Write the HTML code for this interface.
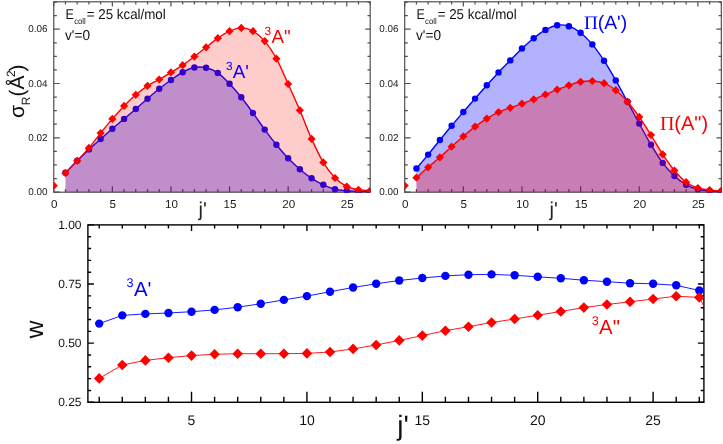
<!DOCTYPE html>
<html><head><meta charset="utf-8"><title>chart</title>
<style>html,body{margin:0;padding:0;background:#fff;overflow:hidden;}svg{display:block;will-change:transform;}text{font-family:"Liberation Sans",sans-serif;text-rendering:geometricPrecision;}text.sf{font-family:"Liberation Serif",serif;}</style>
</head><body>
<svg width="723" height="444" viewBox="0 0 723 444" font-family="'Liberation Sans', sans-serif">
<rect width="723" height="444" fill="#fff"/>
<clipPath id="clip1"><rect x="53.75" y="1.80" width="316.44" height="190.90"/></clipPath>
<g stroke="#505050" stroke-width="1.2" fill="none">
<rect x="53.75" y="1.80" width="316.44" height="190.40"/>
<path d="M53.75,192.20v-6.00M53.75,1.80v4.60M65.47,192.20v-3.20M65.47,1.80v2.60M77.19,192.20v-3.20M77.19,1.80v2.60M88.91,192.20v-3.20M88.91,1.80v2.60M100.63,192.20v-3.20M100.63,1.80v2.60M112.35,192.20v-6.00M112.35,1.80v4.60M124.07,192.20v-3.20M124.07,1.80v2.60M135.79,192.20v-3.20M135.79,1.80v2.60M147.51,192.20v-3.20M147.51,1.80v2.60M159.23,192.20v-3.20M159.23,1.80v2.60M170.95,192.20v-6.00M170.95,1.80v4.60M182.67,192.20v-3.20M182.67,1.80v2.60M194.39,192.20v-3.20M194.39,1.80v2.60M206.11,192.20v-3.20M206.11,1.80v2.60M217.83,192.20v-3.20M217.83,1.80v2.60M229.55,192.20v-6.00M229.55,1.80v4.60M241.27,192.20v-3.20M241.27,1.80v2.60M252.99,192.20v-3.20M252.99,1.80v2.60M264.71,192.20v-3.20M264.71,1.80v2.60M276.43,192.20v-3.20M276.43,1.80v2.60M288.15,192.20v-6.00M288.15,1.80v4.60M299.87,192.20v-3.20M299.87,1.80v2.60M311.59,192.20v-3.20M311.59,1.80v2.60M323.31,192.20v-3.20M323.31,1.80v2.60M335.03,192.20v-3.20M335.03,1.80v2.60M346.75,192.20v-6.00M346.75,1.80v4.60M358.47,192.20v-3.20M358.47,1.80v2.60M370.19,192.20v-3.20M370.19,1.80v2.60M53.75,192.10h6.00M370.19,192.10h-4.90M53.75,178.53h3.10M370.19,178.53h-2.70M53.75,164.95h3.10M370.19,164.95h-2.70M53.75,151.38h3.10M370.19,151.38h-2.70M53.75,137.80h6.00M370.19,137.80h-4.90M53.75,124.22h3.10M370.19,124.22h-2.70M53.75,110.65h3.10M370.19,110.65h-2.70M53.75,97.07h3.10M370.19,97.07h-2.70M53.75,83.50h6.00M370.19,83.50h-4.90M53.75,69.92h3.10M370.19,69.92h-2.70M53.75,56.35h3.10M370.19,56.35h-2.70M53.75,42.78h3.10M370.19,42.78h-2.70M53.75,29.20h6.00M370.19,29.20h-4.90M53.75,15.62h3.10M370.19,15.62h-2.70M53.75,2.05h3.10M370.19,2.05h-2.70"/>
</g>
<g clip-path="url(#clip1)">
<path d="M65.47,172.80C67.42,170.80 73.28,164.70 77.19,160.80C81.10,156.90 85.00,153.03 88.91,149.40C92.82,145.77 96.72,142.45 100.63,139.00C104.54,135.55 108.44,132.05 112.35,128.70C116.26,125.35 120.16,122.18 124.07,118.90C127.98,115.62 131.88,112.37 135.79,109.00C139.70,105.63 143.60,102.07 147.51,98.70C151.42,95.33 155.32,91.92 159.23,88.80C163.14,85.68 167.04,82.77 170.95,80.00C174.86,77.23 178.76,74.28 182.67,72.20C186.58,70.12 190.48,68.23 194.39,67.50C198.30,66.77 202.20,66.90 206.11,67.80C210.02,68.70 213.92,70.23 217.83,72.90C221.74,75.57 225.64,79.73 229.55,83.80C233.46,87.87 237.36,92.43 241.27,97.30C245.18,102.17 249.08,107.62 252.99,113.00C256.90,118.38 260.80,124.30 264.71,129.60C268.62,134.90 272.52,140.02 276.43,144.80C280.34,149.58 284.24,154.23 288.15,158.30C292.06,162.37 295.96,165.87 299.87,169.20C303.78,172.53 307.68,175.70 311.59,178.30C315.50,180.90 319.40,182.98 323.31,184.80C327.22,186.62 331.12,188.20 335.03,189.20C338.94,190.20 342.84,190.43 346.75,190.80C350.66,191.17 354.56,191.27 358.47,191.40C362.38,191.53 368.24,191.57 370.19,191.60L370.19,192.20L65.47,192.20Z" fill="#0000ff" fill-opacity="0.3"/>
<path d="M65.47,172.80C67.42,170.80 73.28,164.70 77.19,160.80C81.10,156.90 85.00,153.03 88.91,149.40C92.82,145.77 96.72,142.45 100.63,139.00C104.54,135.55 108.44,132.05 112.35,128.70C116.26,125.35 120.16,122.18 124.07,118.90C127.98,115.62 131.88,112.37 135.79,109.00C139.70,105.63 143.60,102.07 147.51,98.70C151.42,95.33 155.32,91.92 159.23,88.80C163.14,85.68 167.04,82.77 170.95,80.00C174.86,77.23 178.76,74.28 182.67,72.20C186.58,70.12 190.48,68.23 194.39,67.50C198.30,66.77 202.20,66.90 206.11,67.80C210.02,68.70 213.92,70.23 217.83,72.90C221.74,75.57 225.64,79.73 229.55,83.80C233.46,87.87 237.36,92.43 241.27,97.30C245.18,102.17 249.08,107.62 252.99,113.00C256.90,118.38 260.80,124.30 264.71,129.60C268.62,134.90 272.52,140.02 276.43,144.80C280.34,149.58 284.24,154.23 288.15,158.30C292.06,162.37 295.96,165.87 299.87,169.20C303.78,172.53 307.68,175.70 311.59,178.30C315.50,180.90 319.40,182.98 323.31,184.80C327.22,186.62 331.12,188.20 335.03,189.20C338.94,190.20 342.84,190.43 346.75,190.80C350.66,191.17 354.56,191.27 358.47,191.40C362.38,191.53 368.24,191.57 370.19,191.60" fill="none" stroke="#0000ff" stroke-width="1.4"/>
<circle cx="65.47" cy="172.80" r="3.20" fill="#0000ff"/>
<circle cx="77.19" cy="160.80" r="3.20" fill="#0000ff"/>
<circle cx="88.91" cy="149.40" r="3.20" fill="#0000ff"/>
<circle cx="100.63" cy="139.00" r="3.20" fill="#0000ff"/>
<circle cx="112.35" cy="128.70" r="3.20" fill="#0000ff"/>
<circle cx="124.07" cy="118.90" r="3.20" fill="#0000ff"/>
<circle cx="135.79" cy="109.00" r="3.20" fill="#0000ff"/>
<circle cx="147.51" cy="98.70" r="3.20" fill="#0000ff"/>
<circle cx="159.23" cy="88.80" r="3.20" fill="#0000ff"/>
<circle cx="170.95" cy="80.00" r="3.20" fill="#0000ff"/>
<circle cx="182.67" cy="72.20" r="3.20" fill="#0000ff"/>
<circle cx="194.39" cy="67.50" r="3.20" fill="#0000ff"/>
<circle cx="206.11" cy="67.80" r="3.20" fill="#0000ff"/>
<circle cx="217.83" cy="72.90" r="3.20" fill="#0000ff"/>
<circle cx="229.55" cy="83.80" r="3.20" fill="#0000ff"/>
<circle cx="241.27" cy="97.30" r="3.20" fill="#0000ff"/>
<circle cx="252.99" cy="113.00" r="3.20" fill="#0000ff"/>
<circle cx="264.71" cy="129.60" r="3.20" fill="#0000ff"/>
<circle cx="276.43" cy="144.80" r="3.20" fill="#0000ff"/>
<circle cx="288.15" cy="158.30" r="3.20" fill="#0000ff"/>
<circle cx="299.87" cy="169.20" r="3.20" fill="#0000ff"/>
<circle cx="311.59" cy="178.30" r="3.20" fill="#0000ff"/>
<circle cx="323.31" cy="184.80" r="3.20" fill="#0000ff"/>
<circle cx="335.03" cy="189.20" r="3.20" fill="#0000ff"/>
<circle cx="346.75" cy="190.80" r="3.20" fill="#0000ff"/>
<circle cx="358.47" cy="191.40" r="3.20" fill="#0000ff"/>
<circle cx="370.19" cy="191.60" r="3.20" fill="#0000ff"/>
<path d="M65.47,173.20C67.42,171.13 73.28,165.02 77.19,160.80C81.10,156.58 85.00,152.52 88.91,147.90C92.82,143.28 96.72,137.93 100.63,133.10C104.54,128.27 108.44,123.43 112.35,118.90C116.26,114.37 120.16,109.92 124.07,105.90C127.98,101.88 131.88,98.15 135.79,94.80C139.70,91.45 143.60,88.35 147.51,85.80C151.42,83.25 155.32,81.73 159.23,79.50C163.14,77.27 167.04,74.78 170.95,72.40C174.86,70.02 178.76,67.83 182.67,65.20C186.58,62.57 190.48,59.58 194.39,56.60C198.30,53.62 202.20,50.37 206.11,47.30C210.02,44.23 213.92,40.88 217.83,38.20C221.74,35.52 225.64,32.92 229.55,31.20C233.46,29.48 237.36,27.90 241.27,27.90C245.18,27.90 249.08,29.00 252.99,31.20C256.90,33.40 260.80,36.52 264.71,41.10C268.62,45.68 272.52,51.55 276.43,58.70C280.34,65.85 284.24,75.40 288.15,84.00C292.06,92.60 295.96,101.15 299.87,110.30C303.78,119.45 307.68,130.22 311.59,138.90C315.50,147.58 319.40,155.88 323.31,162.40C327.22,168.92 331.12,173.98 335.03,178.00C338.94,182.02 342.84,184.53 346.75,186.50C350.66,188.47 354.56,189.13 358.47,189.80C362.38,190.47 368.24,190.38 370.19,190.50L370.19,192.20L65.47,192.20Z" fill="#ff0000" fill-opacity="0.2"/>
<path d="M65.47,173.20C67.42,171.13 73.28,165.02 77.19,160.80C81.10,156.58 85.00,152.52 88.91,147.90C92.82,143.28 96.72,137.93 100.63,133.10C104.54,128.27 108.44,123.43 112.35,118.90C116.26,114.37 120.16,109.92 124.07,105.90C127.98,101.88 131.88,98.15 135.79,94.80C139.70,91.45 143.60,88.35 147.51,85.80C151.42,83.25 155.32,81.73 159.23,79.50C163.14,77.27 167.04,74.78 170.95,72.40C174.86,70.02 178.76,67.83 182.67,65.20C186.58,62.57 190.48,59.58 194.39,56.60C198.30,53.62 202.20,50.37 206.11,47.30C210.02,44.23 213.92,40.88 217.83,38.20C221.74,35.52 225.64,32.92 229.55,31.20C233.46,29.48 237.36,27.90 241.27,27.90C245.18,27.90 249.08,29.00 252.99,31.20C256.90,33.40 260.80,36.52 264.71,41.10C268.62,45.68 272.52,51.55 276.43,58.70C280.34,65.85 284.24,75.40 288.15,84.00C292.06,92.60 295.96,101.15 299.87,110.30C303.78,119.45 307.68,130.22 311.59,138.90C315.50,147.58 319.40,155.88 323.31,162.40C327.22,168.92 331.12,173.98 335.03,178.00C338.94,182.02 342.84,184.53 346.75,186.50C350.66,188.47 354.56,189.13 358.47,189.80C362.38,190.47 368.24,190.38 370.19,190.50" fill="none" stroke="#ff0000" stroke-width="1.4"/>
<path d="M53.75,181.60L57.85,185.70L53.75,189.80L49.65,185.70Z" fill="#ff0000"/>
<path d="M65.47,169.10L69.57,173.20L65.47,177.30L61.37,173.20Z" fill="#ff0000"/>
<path d="M77.19,156.70L81.29,160.80L77.19,164.90L73.09,160.80Z" fill="#ff0000"/>
<path d="M88.91,143.80L93.01,147.90L88.91,152.00L84.81,147.90Z" fill="#ff0000"/>
<path d="M100.63,129.00L104.73,133.10L100.63,137.20L96.53,133.10Z" fill="#ff0000"/>
<path d="M112.35,114.80L116.45,118.90L112.35,123.00L108.25,118.90Z" fill="#ff0000"/>
<path d="M124.07,101.80L128.17,105.90L124.07,110.00L119.97,105.90Z" fill="#ff0000"/>
<path d="M135.79,90.70L139.89,94.80L135.79,98.90L131.69,94.80Z" fill="#ff0000"/>
<path d="M147.51,81.70L151.61,85.80L147.51,89.90L143.41,85.80Z" fill="#ff0000"/>
<path d="M159.23,75.40L163.33,79.50L159.23,83.60L155.13,79.50Z" fill="#ff0000"/>
<path d="M170.95,68.30L175.05,72.40L170.95,76.50L166.85,72.40Z" fill="#ff0000"/>
<path d="M182.67,61.10L186.77,65.20L182.67,69.30L178.57,65.20Z" fill="#ff0000"/>
<path d="M194.39,52.50L198.49,56.60L194.39,60.70L190.29,56.60Z" fill="#ff0000"/>
<path d="M206.11,43.20L210.21,47.30L206.11,51.40L202.01,47.30Z" fill="#ff0000"/>
<path d="M217.83,34.10L221.93,38.20L217.83,42.30L213.73,38.20Z" fill="#ff0000"/>
<path d="M229.55,27.10L233.65,31.20L229.55,35.30L225.45,31.20Z" fill="#ff0000"/>
<path d="M241.27,23.80L245.37,27.90L241.27,32.00L237.17,27.90Z" fill="#ff0000"/>
<path d="M252.99,27.10L257.09,31.20L252.99,35.30L248.89,31.20Z" fill="#ff0000"/>
<path d="M264.71,37.00L268.81,41.10L264.71,45.20L260.61,41.10Z" fill="#ff0000"/>
<path d="M276.43,54.60L280.53,58.70L276.43,62.80L272.33,58.70Z" fill="#ff0000"/>
<path d="M288.15,79.90L292.25,84.00L288.15,88.10L284.05,84.00Z" fill="#ff0000"/>
<path d="M299.87,106.20L303.97,110.30L299.87,114.40L295.77,110.30Z" fill="#ff0000"/>
<path d="M311.59,134.80L315.69,138.90L311.59,143.00L307.49,138.90Z" fill="#ff0000"/>
<path d="M323.31,158.30L327.41,162.40L323.31,166.50L319.21,162.40Z" fill="#ff0000"/>
<path d="M335.03,173.90L339.13,178.00L335.03,182.10L330.93,178.00Z" fill="#ff0000"/>
<path d="M346.75,182.40L350.85,186.50L346.75,190.60L342.65,186.50Z" fill="#ff0000"/>
<path d="M358.47,185.70L362.57,189.80L358.47,193.90L354.37,189.80Z" fill="#ff0000"/>
<path d="M370.19,186.40L374.29,190.50L370.19,194.60L366.09,190.50Z" fill="#ff0000"/>
</g>
<g fill="#1a1a1a" font-size="11.6px" text-anchor="middle">
<text x="54.25" y="207.7">0</text>
<text x="112.85" y="207.7">5</text>
<text x="171.45" y="207.7">10</text>
<text x="230.05" y="207.7">15</text>
<text x="288.65" y="207.7">20</text>
<text x="347.25" y="207.7">25</text>
</g>
<g fill="#222" font-size="9.9px" text-anchor="end">
<text x="47.45" y="195.30">0.00</text>
<text x="47.45" y="141.00">0.02</text>
<text x="47.45" y="86.70">0.04</text>
<text x="47.45" y="32.40">0.06</text>
</g>
<text x="198.52" y="216.2" font-size="20px" fill="#222">j'</text>
<g fill="#111" font-size="14.2px">
<text x="65.45" y="18.9" textLength="8.4" lengthAdjust="spacingAndGlyphs">E</text>
<text x="74.15" y="23.5" font-size="8.3px" textLength="11.6" lengthAdjust="spacingAndGlyphs">coll</text>
<text x="86.75" y="18.9" textLength="79.0" lengthAdjust="spacingAndGlyphs">= 25 kcal/mol</text>
<text x="65.05" y="39.9" textLength="25.0" lengthAdjust="spacingAndGlyphs">v'=0</text>
</g>
<clipPath id="clip2"><rect x="404.70" y="1.80" width="316.63" height="190.90"/></clipPath>
<g stroke="#505050" stroke-width="1.2" fill="none">
<rect x="404.70" y="1.80" width="316.63" height="190.40"/>
<path d="M404.70,192.20v-6.00M404.70,1.80v4.60M416.43,192.20v-3.20M416.43,1.80v2.60M428.15,192.20v-3.20M428.15,1.80v2.60M439.88,192.20v-3.20M439.88,1.80v2.60M451.61,192.20v-3.20M451.61,1.80v2.60M463.33,192.20v-6.00M463.33,1.80v4.60M475.06,192.20v-3.20M475.06,1.80v2.60M486.79,192.20v-3.20M486.79,1.80v2.60M498.52,192.20v-3.20M498.52,1.80v2.60M510.24,192.20v-3.20M510.24,1.80v2.60M521.97,192.20v-6.00M521.97,1.80v4.60M533.70,192.20v-3.20M533.70,1.80v2.60M545.42,192.20v-3.20M545.42,1.80v2.60M557.15,192.20v-3.20M557.15,1.80v2.60M568.88,192.20v-3.20M568.88,1.80v2.60M580.61,192.20v-6.00M580.61,1.80v4.60M592.33,192.20v-3.20M592.33,1.80v2.60M604.06,192.20v-3.20M604.06,1.80v2.60M615.79,192.20v-3.20M615.79,1.80v2.60M627.51,192.20v-3.20M627.51,1.80v2.60M639.24,192.20v-6.00M639.24,1.80v4.60M650.97,192.20v-3.20M650.97,1.80v2.60M662.69,192.20v-3.20M662.69,1.80v2.60M674.42,192.20v-3.20M674.42,1.80v2.60M686.15,192.20v-3.20M686.15,1.80v2.60M697.88,192.20v-6.00M697.88,1.80v4.60M709.60,192.20v-3.20M709.60,1.80v2.60M721.33,192.20v-3.20M721.33,1.80v2.60M404.70,192.10h6.00M721.33,192.10h-4.90M404.70,178.53h3.10M721.33,178.53h-2.70M404.70,164.95h3.10M721.33,164.95h-2.70M404.70,151.38h3.10M721.33,151.38h-2.70M404.70,137.80h6.00M721.33,137.80h-4.90M404.70,124.22h3.10M721.33,124.22h-2.70M404.70,110.65h3.10M721.33,110.65h-2.70M404.70,97.07h3.10M721.33,97.07h-2.70M404.70,83.50h6.00M721.33,83.50h-4.90M404.70,69.92h3.10M721.33,69.92h-2.70M404.70,56.35h3.10M721.33,56.35h-2.70M404.70,42.78h3.10M721.33,42.78h-2.70M404.70,29.20h6.00M721.33,29.20h-4.90M404.70,15.62h3.10M721.33,15.62h-2.70M404.70,2.05h3.10M721.33,2.05h-2.70"/>
</g>
<g clip-path="url(#clip2)">
<path d="M416.43,168.50C418.38,166.18 424.25,159.35 428.15,154.60C432.06,149.85 435.97,144.82 439.88,140.00C443.79,135.18 447.70,130.37 451.61,125.70C455.52,121.03 459.43,116.52 463.33,112.00C467.24,107.48 471.15,103.07 475.06,98.60C478.97,94.13 482.88,89.57 486.79,85.20C490.70,80.83 494.61,76.53 498.52,72.40C502.42,68.27 506.33,64.38 510.24,60.40C514.15,56.42 518.06,52.20 521.97,48.50C525.88,44.80 529.79,41.30 533.70,38.20C537.61,35.10 541.51,32.07 545.42,29.90C549.33,27.73 553.24,25.82 557.15,25.20C561.06,24.58 564.97,24.95 568.88,26.20C572.79,27.45 576.70,29.67 580.61,32.70C584.51,35.73 588.42,39.73 592.33,44.40C596.24,49.07 600.15,54.70 604.06,60.70C607.97,66.70 611.88,73.55 615.79,80.40C619.70,87.25 623.60,94.60 627.51,101.80C631.42,109.00 635.33,116.45 639.24,123.60C643.15,130.75 647.06,138.15 650.97,144.70C654.88,151.25 658.78,157.68 662.69,162.90C666.60,168.12 670.51,172.35 674.42,176.00C678.33,179.65 682.24,182.58 686.15,184.80C690.06,187.02 693.97,188.27 697.88,189.30C701.78,190.33 705.69,190.65 709.60,191.00C713.51,191.35 719.37,191.33 721.33,191.40L721.33,192.20L416.43,192.20Z" fill="#0000ff" fill-opacity="0.3"/>
<path d="M416.43,168.50C418.38,166.18 424.25,159.35 428.15,154.60C432.06,149.85 435.97,144.82 439.88,140.00C443.79,135.18 447.70,130.37 451.61,125.70C455.52,121.03 459.43,116.52 463.33,112.00C467.24,107.48 471.15,103.07 475.06,98.60C478.97,94.13 482.88,89.57 486.79,85.20C490.70,80.83 494.61,76.53 498.52,72.40C502.42,68.27 506.33,64.38 510.24,60.40C514.15,56.42 518.06,52.20 521.97,48.50C525.88,44.80 529.79,41.30 533.70,38.20C537.61,35.10 541.51,32.07 545.42,29.90C549.33,27.73 553.24,25.82 557.15,25.20C561.06,24.58 564.97,24.95 568.88,26.20C572.79,27.45 576.70,29.67 580.61,32.70C584.51,35.73 588.42,39.73 592.33,44.40C596.24,49.07 600.15,54.70 604.06,60.70C607.97,66.70 611.88,73.55 615.79,80.40C619.70,87.25 623.60,94.60 627.51,101.80C631.42,109.00 635.33,116.45 639.24,123.60C643.15,130.75 647.06,138.15 650.97,144.70C654.88,151.25 658.78,157.68 662.69,162.90C666.60,168.12 670.51,172.35 674.42,176.00C678.33,179.65 682.24,182.58 686.15,184.80C690.06,187.02 693.97,188.27 697.88,189.30C701.78,190.33 705.69,190.65 709.60,191.00C713.51,191.35 719.37,191.33 721.33,191.40" fill="none" stroke="#0000ff" stroke-width="1.4"/>
<circle cx="416.43" cy="168.50" r="3.20" fill="#0000ff"/>
<circle cx="428.15" cy="154.60" r="3.20" fill="#0000ff"/>
<circle cx="439.88" cy="140.00" r="3.20" fill="#0000ff"/>
<circle cx="451.61" cy="125.70" r="3.20" fill="#0000ff"/>
<circle cx="463.33" cy="112.00" r="3.20" fill="#0000ff"/>
<circle cx="475.06" cy="98.60" r="3.20" fill="#0000ff"/>
<circle cx="486.79" cy="85.20" r="3.20" fill="#0000ff"/>
<circle cx="498.52" cy="72.40" r="3.20" fill="#0000ff"/>
<circle cx="510.24" cy="60.40" r="3.20" fill="#0000ff"/>
<circle cx="521.97" cy="48.50" r="3.20" fill="#0000ff"/>
<circle cx="533.70" cy="38.20" r="3.20" fill="#0000ff"/>
<circle cx="545.42" cy="29.90" r="3.20" fill="#0000ff"/>
<circle cx="557.15" cy="25.20" r="3.20" fill="#0000ff"/>
<circle cx="568.88" cy="26.20" r="3.20" fill="#0000ff"/>
<circle cx="580.61" cy="32.70" r="3.20" fill="#0000ff"/>
<circle cx="592.33" cy="44.40" r="3.20" fill="#0000ff"/>
<circle cx="604.06" cy="60.70" r="3.20" fill="#0000ff"/>
<circle cx="615.79" cy="80.40" r="3.20" fill="#0000ff"/>
<circle cx="627.51" cy="101.80" r="3.20" fill="#0000ff"/>
<circle cx="639.24" cy="123.60" r="3.20" fill="#0000ff"/>
<circle cx="650.97" cy="144.70" r="3.20" fill="#0000ff"/>
<circle cx="662.69" cy="162.90" r="3.20" fill="#0000ff"/>
<circle cx="674.42" cy="176.00" r="3.20" fill="#0000ff"/>
<circle cx="686.15" cy="184.80" r="3.20" fill="#0000ff"/>
<circle cx="697.88" cy="189.30" r="3.20" fill="#0000ff"/>
<circle cx="709.60" cy="191.00" r="3.20" fill="#0000ff"/>
<circle cx="721.33" cy="191.40" r="3.20" fill="#0000ff"/>
<path d="M416.43,177.70C418.38,175.97 424.25,170.70 428.15,167.30C432.06,163.90 435.97,160.73 439.88,157.30C443.79,153.87 447.70,150.20 451.61,146.70C455.52,143.20 459.43,139.65 463.33,136.30C467.24,132.95 471.15,129.55 475.06,126.60C478.97,123.65 482.88,121.00 486.79,118.60C490.70,116.20 494.61,114.00 498.52,112.20C502.42,110.40 506.33,109.22 510.24,107.80C514.15,106.38 518.06,105.10 521.97,103.70C525.88,102.30 529.79,100.93 533.70,99.40C537.61,97.87 541.51,96.13 545.42,94.50C549.33,92.87 553.24,91.13 557.15,89.60C561.06,88.07 564.97,86.60 568.88,85.30C572.79,84.00 576.70,82.52 580.61,81.80C584.51,81.08 588.42,80.77 592.33,81.00C596.24,81.23 600.15,81.67 604.06,83.20C607.97,84.73 611.88,87.12 615.79,90.20C619.70,93.28 623.60,97.25 627.51,101.70C631.42,106.15 635.33,111.35 639.24,116.90C643.15,122.45 647.06,128.75 650.97,135.00C654.88,141.25 658.78,148.48 662.69,154.40C666.60,160.32 670.51,165.87 674.42,170.50C678.33,175.13 682.24,179.28 686.15,182.20C690.06,185.12 693.97,186.68 697.88,188.00C701.78,189.32 705.69,189.65 709.60,190.10C713.51,190.55 719.37,190.60 721.33,190.70L721.33,192.20L416.43,192.20Z" fill="#ff0000" fill-opacity="0.29"/>
<path d="M416.43,177.70C418.38,175.97 424.25,170.70 428.15,167.30C432.06,163.90 435.97,160.73 439.88,157.30C443.79,153.87 447.70,150.20 451.61,146.70C455.52,143.20 459.43,139.65 463.33,136.30C467.24,132.95 471.15,129.55 475.06,126.60C478.97,123.65 482.88,121.00 486.79,118.60C490.70,116.20 494.61,114.00 498.52,112.20C502.42,110.40 506.33,109.22 510.24,107.80C514.15,106.38 518.06,105.10 521.97,103.70C525.88,102.30 529.79,100.93 533.70,99.40C537.61,97.87 541.51,96.13 545.42,94.50C549.33,92.87 553.24,91.13 557.15,89.60C561.06,88.07 564.97,86.60 568.88,85.30C572.79,84.00 576.70,82.52 580.61,81.80C584.51,81.08 588.42,80.77 592.33,81.00C596.24,81.23 600.15,81.67 604.06,83.20C607.97,84.73 611.88,87.12 615.79,90.20C619.70,93.28 623.60,97.25 627.51,101.70C631.42,106.15 635.33,111.35 639.24,116.90C643.15,122.45 647.06,128.75 650.97,135.00C654.88,141.25 658.78,148.48 662.69,154.40C666.60,160.32 670.51,165.87 674.42,170.50C678.33,175.13 682.24,179.28 686.15,182.20C690.06,185.12 693.97,186.68 697.88,188.00C701.78,189.32 705.69,189.65 709.60,190.10C713.51,190.55 719.37,190.60 721.33,190.70" fill="none" stroke="#ff0000" stroke-width="1.4"/>
<path d="M404.70,181.50L408.80,185.60L404.70,189.70L400.60,185.60Z" fill="#ff0000"/>
<path d="M416.43,173.60L420.53,177.70L416.43,181.80L412.33,177.70Z" fill="#ff0000"/>
<path d="M428.15,163.20L432.25,167.30L428.15,171.40L424.05,167.30Z" fill="#ff0000"/>
<path d="M439.88,153.20L443.98,157.30L439.88,161.40L435.78,157.30Z" fill="#ff0000"/>
<path d="M451.61,142.60L455.71,146.70L451.61,150.80L447.51,146.70Z" fill="#ff0000"/>
<path d="M463.33,132.20L467.44,136.30L463.33,140.40L459.23,136.30Z" fill="#ff0000"/>
<path d="M475.06,122.50L479.16,126.60L475.06,130.70L470.96,126.60Z" fill="#ff0000"/>
<path d="M486.79,114.50L490.89,118.60L486.79,122.70L482.69,118.60Z" fill="#ff0000"/>
<path d="M498.52,108.10L502.62,112.20L498.52,116.30L494.42,112.20Z" fill="#ff0000"/>
<path d="M510.24,103.70L514.34,107.80L510.24,111.90L506.14,107.80Z" fill="#ff0000"/>
<path d="M521.97,99.60L526.07,103.70L521.97,107.80L517.87,103.70Z" fill="#ff0000"/>
<path d="M533.70,95.30L537.80,99.40L533.70,103.50L529.60,99.40Z" fill="#ff0000"/>
<path d="M545.42,90.40L549.52,94.50L545.42,98.60L541.32,94.50Z" fill="#ff0000"/>
<path d="M557.15,85.50L561.25,89.60L557.15,93.70L553.05,89.60Z" fill="#ff0000"/>
<path d="M568.88,81.20L572.98,85.30L568.88,89.40L564.78,85.30Z" fill="#ff0000"/>
<path d="M580.61,77.70L584.71,81.80L580.61,85.90L576.50,81.80Z" fill="#ff0000"/>
<path d="M592.33,76.90L596.43,81.00L592.33,85.10L588.23,81.00Z" fill="#ff0000"/>
<path d="M604.06,79.10L608.16,83.20L604.06,87.30L599.96,83.20Z" fill="#ff0000"/>
<path d="M615.79,86.10L619.89,90.20L615.79,94.30L611.69,90.20Z" fill="#ff0000"/>
<path d="M627.51,97.60L631.61,101.70L627.51,105.80L623.41,101.70Z" fill="#ff0000"/>
<path d="M639.24,112.80L643.34,116.90L639.24,121.00L635.14,116.90Z" fill="#ff0000"/>
<path d="M650.97,130.90L655.07,135.00L650.97,139.10L646.87,135.00Z" fill="#ff0000"/>
<path d="M662.69,150.30L666.79,154.40L662.69,158.50L658.59,154.40Z" fill="#ff0000"/>
<path d="M674.42,166.40L678.52,170.50L674.42,174.60L670.32,170.50Z" fill="#ff0000"/>
<path d="M686.15,178.10L690.25,182.20L686.15,186.30L682.05,182.20Z" fill="#ff0000"/>
<path d="M697.88,183.90L701.98,188.00L697.88,192.10L693.77,188.00Z" fill="#ff0000"/>
<path d="M709.60,186.00L713.70,190.10L709.60,194.20L705.50,190.10Z" fill="#ff0000"/>
<path d="M721.33,186.60L725.43,190.70L721.33,194.80L717.23,190.70Z" fill="#ff0000"/>
</g>
<g fill="#1a1a1a" font-size="11.6px" text-anchor="middle">
<text x="405.20" y="207.7">0</text>
<text x="463.83" y="207.7">5</text>
<text x="522.47" y="207.7">10</text>
<text x="581.11" y="207.7">15</text>
<text x="639.74" y="207.7">20</text>
<text x="698.38" y="207.7">25</text>
</g>
<g fill="#222" font-size="9.9px" text-anchor="end">
<text x="398.40" y="195.30">0.00</text>
<text x="398.40" y="141.00">0.02</text>
<text x="398.40" y="86.70">0.04</text>
<text x="398.40" y="32.40">0.06</text>
</g>
<text x="549.56" y="216.2" font-size="20px" fill="#222">j'</text>
<g fill="#111" font-size="14.2px">
<text x="416.40" y="18.9" textLength="8.4" lengthAdjust="spacingAndGlyphs">E</text>
<text x="425.10" y="23.5" font-size="8.3px" textLength="11.6" lengthAdjust="spacingAndGlyphs">coll</text>
<text x="437.70" y="18.9" textLength="79.0" lengthAdjust="spacingAndGlyphs">= 25 kcal/mol</text>
<text x="416.00" y="39.9" textLength="25.0" lengthAdjust="spacingAndGlyphs">v'=0</text>
</g>
<g fill="#ff0000"><text x="264.6" y="34.8" font-size="11.8px">3</text><text x="271.4" y="43.3" font-size="18.8px">A"</text></g>
<g fill="#0000ff"><text x="225.9" y="69.5" font-size="11.8px">3</text><text x="232.7" y="78.4" font-size="18.8px">A'</text></g>
<g fill="#0000ff"><text x="584.0" y="28.9" font-size="19.3px" class="sf">&#928;</text><text x="597.8" y="28.9" font-size="19.3px">(A')</text></g>
<g fill="#ff0000"><text x="660.0" y="130.3" font-size="20px" class="sf">&#928;</text><text x="674.3" y="130.3" font-size="20px">(A")</text></g>
<g transform="translate(23.6,118.0) rotate(-90)" fill="#111">
<text x="0" y="0" font-size="21px">&#963;</text>
<text x="12.8" y="6.0" font-size="12px">R</text>
<text x="21.5" y="0" font-size="21px">(&#197;</text>
<text x="40.9" y="-8.6" font-size="12px">2</text>
<text x="46.6" y="0" font-size="21px">)</text>
</g>
<clipPath id="clip3"><rect x="87.90" y="224.90" width="616.00" height="177.40"/></clipPath>
<g stroke="#000" stroke-width="1.4" fill="none">
<rect x="87.90" y="224.90" width="616.00" height="177.40"/>
<path d="M99.20,402.30v-5.60M99.20,224.90v3.60M122.28,402.30v-5.60M122.28,224.90v3.60M145.36,402.30v-5.60M145.36,224.90v3.60M168.44,402.30v-5.60M168.44,224.90v3.60M191.52,402.30v-10.60M191.52,224.90v6.20M214.60,402.30v-5.60M214.60,224.90v3.60M237.68,402.30v-5.60M237.68,224.90v3.60M260.76,402.30v-5.60M260.76,224.90v3.60M283.84,402.30v-5.60M283.84,224.90v3.60M306.92,402.30v-10.60M306.92,224.90v6.20M330.00,402.30v-5.60M330.00,224.90v3.60M353.08,402.30v-5.60M353.08,224.90v3.60M376.16,402.30v-5.60M376.16,224.90v3.60M399.24,402.30v-5.60M399.24,224.90v3.60M422.32,402.30v-10.60M422.32,224.90v6.20M445.40,402.30v-5.60M445.40,224.90v3.60M468.48,402.30v-5.60M468.48,224.90v3.60M491.56,402.30v-5.60M491.56,224.90v3.60M514.64,402.30v-5.60M514.64,224.90v3.60M537.72,402.30v-10.60M537.72,224.90v6.20M560.80,402.30v-5.60M560.80,224.90v3.60M583.88,402.30v-5.60M583.88,224.90v3.60M606.96,402.30v-5.60M606.96,224.90v3.60M630.04,402.30v-5.60M630.04,224.90v3.60M653.12,402.30v-10.60M653.12,224.90v6.20M676.20,402.30v-5.60M676.20,224.90v3.60M699.28,402.30v-5.60M699.28,224.90v3.60M87.90,402.30h6.00M703.90,402.30h-6.00M87.90,390.47h3.20M703.90,390.47h-3.20M87.90,378.65h3.20M703.90,378.65h-3.20M87.90,366.82h3.20M703.90,366.82h-3.20M87.90,354.99h3.20M703.90,354.99h-3.20M87.90,343.17h6.00M703.90,343.17h-6.00M87.90,331.34h3.20M703.90,331.34h-3.20M87.90,319.51h3.20M703.90,319.51h-3.20M87.90,307.69h3.20M703.90,307.69h-3.20M87.90,295.86h3.20M703.90,295.86h-3.20M87.90,284.03h6.00M703.90,284.03h-6.00M87.90,272.21h3.20M703.90,272.21h-3.20M87.90,260.38h3.20M703.90,260.38h-3.20M87.90,248.55h3.20M703.90,248.55h-3.20M87.90,236.73h3.20M703.90,236.73h-3.20M87.90,224.90h6.00M703.90,224.90h-6.00"/>
</g>
<g clip-path="url(#clip3)">
<path d="M99.20,323.60L122.28,315.40L145.36,313.90L168.44,313.00L191.52,311.70L214.60,309.90L237.68,307.20L260.76,303.80L283.84,299.90L306.92,296.10L330.00,291.70L353.08,287.50L376.16,283.80L399.24,280.50L422.32,278.00L445.40,275.90L468.48,274.70L491.56,274.40L514.64,275.30L537.72,276.80L560.80,278.30L583.88,280.20L606.96,281.70L630.04,283.20L653.12,283.80L676.20,285.30L699.28,290.50L722.36,342.80" fill="none" stroke="#0000ff" stroke-width="0.9"/>
<path d="M99.20,378.40L122.28,365.00L145.36,360.40L168.44,357.70L191.52,355.60L214.60,354.30L237.68,353.70L260.76,353.70L283.84,353.70L306.92,353.40L330.00,352.00L353.08,348.90L376.16,345.00L399.24,340.40L422.32,335.60L445.40,330.70L468.48,326.70L491.56,322.50L514.64,319.00L537.72,315.20L560.80,311.50L583.88,307.60L606.96,304.50L630.04,301.80L653.12,299.00L676.20,296.20L699.28,297.40L722.36,342.80" fill="none" stroke="#ff0000" stroke-width="0.9"/>
<circle cx="99.20" cy="323.60" r="4.20" fill="#0000ff"/>
<circle cx="122.28" cy="315.40" r="4.20" fill="#0000ff"/>
<circle cx="145.36" cy="313.90" r="4.20" fill="#0000ff"/>
<circle cx="168.44" cy="313.00" r="4.20" fill="#0000ff"/>
<circle cx="191.52" cy="311.70" r="4.20" fill="#0000ff"/>
<circle cx="214.60" cy="309.90" r="4.20" fill="#0000ff"/>
<circle cx="237.68" cy="307.20" r="4.20" fill="#0000ff"/>
<circle cx="260.76" cy="303.80" r="4.20" fill="#0000ff"/>
<circle cx="283.84" cy="299.90" r="4.20" fill="#0000ff"/>
<circle cx="306.92" cy="296.10" r="4.20" fill="#0000ff"/>
<circle cx="330.00" cy="291.70" r="4.20" fill="#0000ff"/>
<circle cx="353.08" cy="287.50" r="4.20" fill="#0000ff"/>
<circle cx="376.16" cy="283.80" r="4.20" fill="#0000ff"/>
<circle cx="399.24" cy="280.50" r="4.20" fill="#0000ff"/>
<circle cx="422.32" cy="278.00" r="4.20" fill="#0000ff"/>
<circle cx="445.40" cy="275.90" r="4.20" fill="#0000ff"/>
<circle cx="468.48" cy="274.70" r="4.20" fill="#0000ff"/>
<circle cx="491.56" cy="274.40" r="4.20" fill="#0000ff"/>
<circle cx="514.64" cy="275.30" r="4.20" fill="#0000ff"/>
<circle cx="537.72" cy="276.80" r="4.20" fill="#0000ff"/>
<circle cx="560.80" cy="278.30" r="4.20" fill="#0000ff"/>
<circle cx="583.88" cy="280.20" r="4.20" fill="#0000ff"/>
<circle cx="606.96" cy="281.70" r="4.20" fill="#0000ff"/>
<circle cx="630.04" cy="283.20" r="4.20" fill="#0000ff"/>
<circle cx="653.12" cy="283.80" r="4.20" fill="#0000ff"/>
<circle cx="676.20" cy="285.30" r="4.20" fill="#0000ff"/>
<circle cx="699.28" cy="290.50" r="4.20" fill="#0000ff"/>
<circle cx="722.36" cy="342.80" r="4.20" fill="#0000ff"/>
<path d="M99.20,373.10L104.50,378.40L99.20,383.70L93.90,378.40Z" fill="#ff0000"/>
<path d="M122.28,359.70L127.58,365.00L122.28,370.30L116.98,365.00Z" fill="#ff0000"/>
<path d="M145.36,355.10L150.66,360.40L145.36,365.70L140.06,360.40Z" fill="#ff0000"/>
<path d="M168.44,352.40L173.74,357.70L168.44,363.00L163.14,357.70Z" fill="#ff0000"/>
<path d="M191.52,350.30L196.82,355.60L191.52,360.90L186.22,355.60Z" fill="#ff0000"/>
<path d="M214.60,349.00L219.90,354.30L214.60,359.60L209.30,354.30Z" fill="#ff0000"/>
<path d="M237.68,348.40L242.98,353.70L237.68,359.00L232.38,353.70Z" fill="#ff0000"/>
<path d="M260.76,348.40L266.06,353.70L260.76,359.00L255.46,353.70Z" fill="#ff0000"/>
<path d="M283.84,348.40L289.14,353.70L283.84,359.00L278.54,353.70Z" fill="#ff0000"/>
<path d="M306.92,348.10L312.22,353.40L306.92,358.70L301.62,353.40Z" fill="#ff0000"/>
<path d="M330.00,346.70L335.30,352.00L330.00,357.30L324.70,352.00Z" fill="#ff0000"/>
<path d="M353.08,343.60L358.38,348.90L353.08,354.20L347.78,348.90Z" fill="#ff0000"/>
<path d="M376.16,339.70L381.46,345.00L376.16,350.30L370.86,345.00Z" fill="#ff0000"/>
<path d="M399.24,335.10L404.54,340.40L399.24,345.70L393.94,340.40Z" fill="#ff0000"/>
<path d="M422.32,330.30L427.62,335.60L422.32,340.90L417.02,335.60Z" fill="#ff0000"/>
<path d="M445.40,325.40L450.70,330.70L445.40,336.00L440.10,330.70Z" fill="#ff0000"/>
<path d="M468.48,321.40L473.78,326.70L468.48,332.00L463.18,326.70Z" fill="#ff0000"/>
<path d="M491.56,317.20L496.86,322.50L491.56,327.80L486.26,322.50Z" fill="#ff0000"/>
<path d="M514.64,313.70L519.94,319.00L514.64,324.30L509.34,319.00Z" fill="#ff0000"/>
<path d="M537.72,309.90L543.02,315.20L537.72,320.50L532.42,315.20Z" fill="#ff0000"/>
<path d="M560.80,306.20L566.10,311.50L560.80,316.80L555.50,311.50Z" fill="#ff0000"/>
<path d="M583.88,302.30L589.18,307.60L583.88,312.90L578.58,307.60Z" fill="#ff0000"/>
<path d="M606.96,299.20L612.26,304.50L606.96,309.80L601.66,304.50Z" fill="#ff0000"/>
<path d="M630.04,296.50L635.34,301.80L630.04,307.10L624.74,301.80Z" fill="#ff0000"/>
<path d="M653.12,293.70L658.42,299.00L653.12,304.30L647.82,299.00Z" fill="#ff0000"/>
<path d="M676.20,290.90L681.50,296.20L676.20,301.50L670.90,296.20Z" fill="#ff0000"/>
<path d="M699.28,292.10L704.58,297.40L699.28,302.70L693.98,297.40Z" fill="#ff0000"/>
<path d="M722.36,337.50L727.66,342.80L722.36,348.10L717.06,342.80Z" fill="#ff0000"/>
</g>
<g fill="#111" font-size="14px" text-anchor="middle">
<text x="191.52" y="424.7">5</text>
<text x="306.92" y="424.7">10</text>
<text x="422.32" y="424.7">15</text>
<text x="537.72" y="424.7">20</text>
<text x="653.12" y="424.7">25</text>
</g>
<g fill="#111" font-size="12px" text-anchor="end">
<text x="81.5" y="406.20">0.25</text>
<text x="81.5" y="347.07">0.50</text>
<text x="81.5" y="287.93">0.75</text>
<text x="81.5" y="228.80">1.00</text>
</g>
<text x="397.3" y="434.7" font-size="28px" fill="#111">j'</text>
<text transform="translate(43.4,338.4) rotate(-90)" font-size="25px" fill="#111">w</text>
<g fill="#0000ff"><text x="126.6" y="286.6" font-size="12.6px">3</text><text x="133.9" y="296.0" font-size="20.4px">A'</text></g>
<g fill="#ff0000"><text x="591.8" y="325.0" font-size="12.6px">3</text><text x="599.1" y="334.4" font-size="20.4px">A"</text></g>
</svg>
</body></html>
